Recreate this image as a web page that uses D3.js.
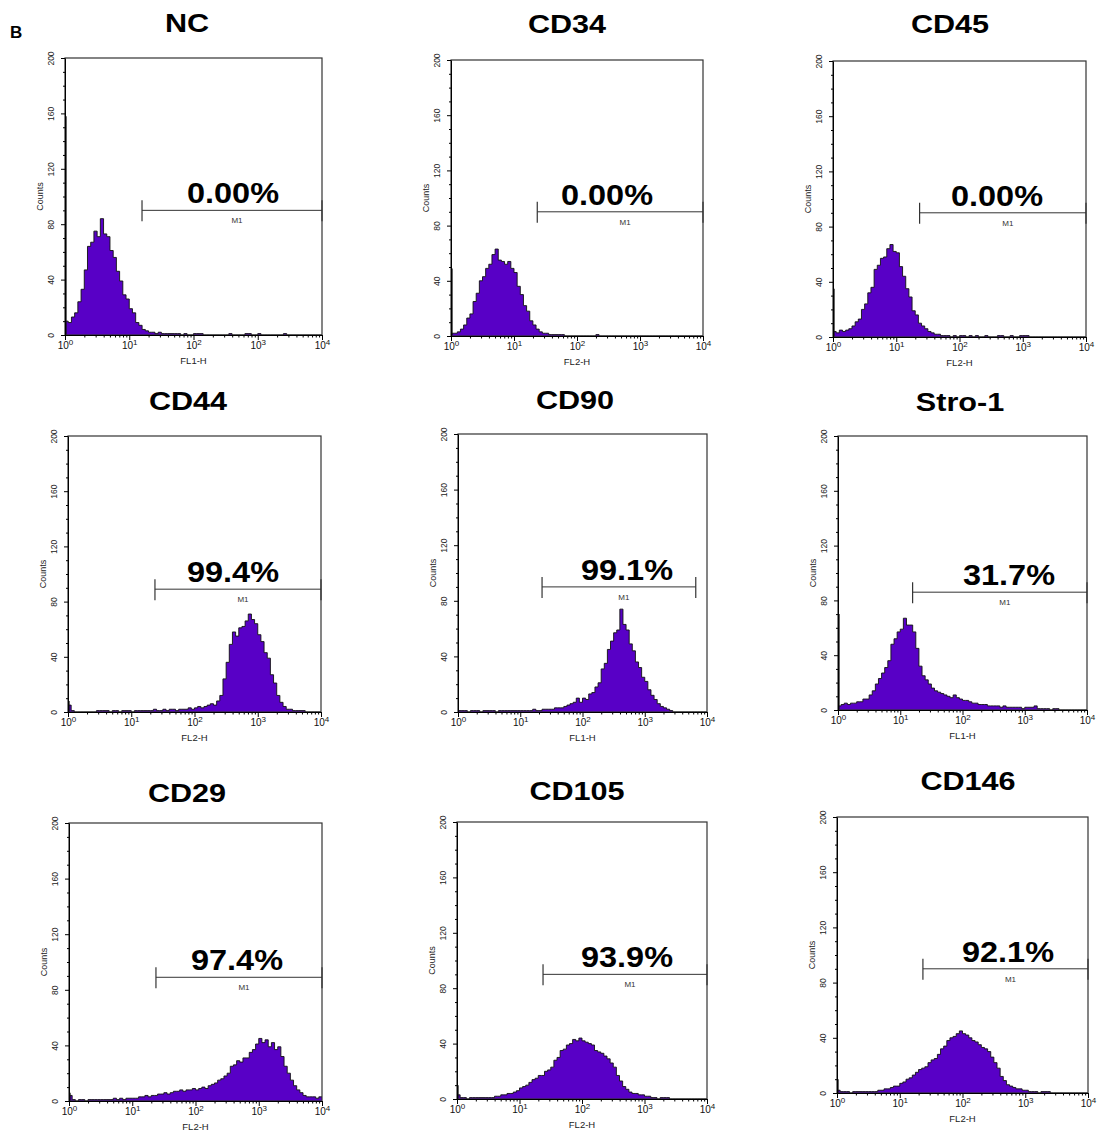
<!DOCTYPE html>
<html>
<head>
<meta charset="utf-8">
<script src="https://cdn.jsdelivr.net/npm/d3@7"></script>
<style>
  body { margin: 0; background: #fff; }
  svg { display: block; font-family: "Liberation Sans", Arial, sans-serif; }
</style>
</head>
<body>
<svg id="chart" width="1100" height="1134"></svg>
<script>
// Panel names, gated percentages and detector channel
const names = ["NC", "CD34", "CD45", "CD44", "CD90", "Stro-1", "CD29", "CD105", "CD146"];
const percents = ["0.00%", "0.00%", "0.00%", "99.4%", "99.1%", "31.7%", "97.4%", "93.9%", "92.1%"];
const channels = ["FL1-H", "FL2-H", "FL2-H", "FL2-H", "FL1-H", "FL1-H", "FL2-H", "FL2-H", "FL2-H"];

// Histogram counts, one bin per 0.05 decade from 10^0 to 10^4 (80 bins)
const binStep = 0.05;
const countsNC = [
  10, 9, 13, 16, 24, 33, 47, 64, 67, 75,
  71, 84, 73, 71, 61, 56, 46, 39, 29, 26,
  19, 16, 9, 7, 4, 3, 2, 2, 1, 2,
  1, 1, 1, 1, 1, 1, 0, 1, 0, 0,
  1, 1, 1, 0, 0, 0, 0, 0, 0, 0,
  0, 1, 0, 0, 0, 0, 1, 1, 0, 0,
  1, 0, 0, 0, 0, 0, 0, 0, 1, 0,
  0, 0, 0, 0, 0, 0, 0, 0, 0, 0];
const countsCD34 = [
  2, 2, 3, 5, 8, 13, 16, 25, 31, 40,
  43, 49, 52, 59, 63, 55, 54, 52, 54, 49,
  46, 36, 30, 22, 18, 11, 8, 5, 3, 2,
  2, 1, 1, 1, 1, 1, 0, 0, 0, 0,
  0, 0, 0, 0, 0, 0, 1, 0, 0, 0,
  0, 0, 0, 0, 0, 0, 0, 0, 0, 0,
  0, 0, 0, 0, 0, 0, 0, 0, 0, 0,
  0, 0, 0, 0, 0, 0, 0, 0, 0, 0];
const countsCD45 = [
  4, 3, 5, 4, 5, 6, 8, 11, 13, 20,
  24, 32, 36, 49, 52, 57, 58, 64, 67, 62,
  61, 51, 44, 35, 29, 19, 16, 10, 8, 6,
  4, 3, 2, 2, 1, 1, 1, 0, 1, 0,
  1, 1, 0, 1, 0, 1, 0, 0, 1, 0,
  0, 0, 1, 1, 0, 0, 1, 0, 0, 1,
  1, 1, 0, 0, 0, 0, 0, 0, 0, 0,
  0, 0, 0, 0, 0, 0, 0, 0, 0, 0];
const countsCD44 = [
  5, 1, 0, 0, 0, 0, 0, 0, 0, 1,
  1, 1, 1, 0, 1, 1, 0, 1, 1, 1,
  0, 1, 1, 1, 1, 1, 1, 2, 1, 1,
  2, 1, 2, 2, 1, 2, 2, 2, 3, 2,
  3, 4, 3, 4, 5, 6, 5, 8, 12, 24,
  36, 49, 58, 55, 61, 62, 66, 71, 67, 64,
  56, 51, 43, 39, 27, 21, 12, 7, 4, 2,
  2, 1, 1, 1, 1, 0, 0, 0, 0, 0];
const countsCD90 = [
  1, 1, 1, 0, 1, 1, 1, 0, 1, 1,
  1, 1, 0, 1, 1, 1, 1, 1, 1, 1,
  1, 1, 1, 1, 2, 1, 1, 2, 2, 2,
  2, 3, 3, 3, 4, 5, 6, 7, 10, 7,
  10, 9, 13, 14, 18, 21, 31, 35, 45, 51,
  57, 59, 74, 63, 59, 49, 44, 36, 32, 25,
  22, 16, 12, 9, 6, 4, 3, 2, 1, 0,
  0, 0, 0, 0, 0, 0, 0, 0, 0, 0];
const countsStro1 = [
  3, 4, 5, 4, 5, 5, 6, 6, 8, 8,
  11, 14, 19, 23, 27, 31, 36, 48, 52, 57,
  59, 67, 62, 62, 57, 45, 32, 25, 22, 19,
  16, 14, 13, 12, 11, 10, 9, 11, 9, 8,
  7, 7, 6, 5, 5, 4, 4, 4, 3, 3,
  3, 3, 2, 3, 2, 2, 2, 2, 2, 1,
  2, 2, 2, 3, 1, 1, 1, 1, 0, 1,
  1, 0, 0, 0, 0, 0, 0, 0, 0, 0];
const countsCD29 = [
  4, 1, 0, 1, 1, 0, 1, 1, 1, 1,
  1, 1, 1, 1, 2, 1, 2, 1, 2, 2,
  2, 2, 3, 3, 4, 3, 4, 4, 5, 5,
  6, 5, 6, 7, 7, 8, 7, 8, 8, 9,
  8, 9, 10, 9, 11, 12, 13, 15, 16, 18,
  20, 25, 26, 29, 28, 31, 31, 35, 37, 41,
  45, 42, 44, 39, 42, 37, 39, 32, 25, 20,
  15, 11, 8, 6, 4, 3, 3, 3, 2, 3];
const countsCD105 = [
  3, 1, 1, 0, 1, 1, 1, 1, 1, 1,
  1, 1, 2, 2, 3, 3, 4, 4, 5, 6,
  8, 9, 10, 12, 14, 15, 17, 17, 20, 21,
  23, 28, 30, 35, 36, 39, 40, 43, 42, 44,
  42, 41, 40, 39, 35, 34, 33, 31, 29, 26,
  23, 17, 13, 9, 7, 5, 4, 4, 3, 3,
  2, 2, 1, 1, 0, 1, 1, 1, 0, 0,
  0, 0, 0, 0, 0, 0, 0, 0, 0, 0];
const countsCD146 = [
  2, 1, 1, 1, 0, 1, 1, 1, 1, 1,
  1, 1, 1, 2, 2, 3, 3, 4, 5, 5,
  7, 8, 10, 11, 13, 15, 17, 18, 19, 22,
  24, 25, 28, 32, 34, 38, 40, 41, 43, 45,
  43, 42, 40, 38, 37, 35, 33, 32, 30, 26,
  22, 18, 12, 9, 6, 5, 4, 3, 3, 2,
  2, 1, 1, 1, 0, 1, 1, 1, 0, 0,
  0, 0, 0, 0, 0, 0, 0, 0, 0, 0];
const histograms = [countsNC, countsCD34, countsCD45, countsCD44, countsCD90,
                    countsStro1, countsCD29, countsCD105, countsCD146];

// Pile-up count in the very first channel
const edgeSpikes = [158, 49, 35, 8, 0, 70, 6, 10, 10];

// M1 marker gate: low / high fluorescence and height in counts
const markerLo = [15.8, 23.4, 23.4, 23.7, 22.4, 15.8, 23.7, 23.8, 23.4];
const markerHi = [10000, 10000, 10000, 10000, 6600, 10000, 10000, 10000, 10000];
const markerY = [90, 90, 90, 89, 90, 86, 89, 90, 90];

const yTicks = [0, 40, 80, 120, 160, 200];
const xTicks = [1, 10, 100, 1000, 10000];
const xExponents = ["0", "1", "2", "3", "4"];

// Panel boxes (px): plot rectangle, title anchor, percent label centre
const layout = [
  { l: 65,  r: 322,  t: 58,  b: 335,  tx: 187, ty: 32,  px: 233 },
  { l: 451, r: 703,  t: 60,  b: 336,  tx: 567, ty: 33,  px: 607 },
  { l: 833, r: 1086, t: 61,  b: 337,  tx: 950, ty: 33,  px: 997 },
  { l: 68,  r: 321,  t: 436, b: 712,  tx: 188, ty: 410, px: 233 },
  { l: 458, r: 707,  t: 434, b: 712,  tx: 575, ty: 409, px: 627 },
  { l: 838, r: 1087, t: 436, b: 710,  tx: 960, ty: 411, px: 1009 },
  { l: 69,  r: 322,  t: 823, b: 1101, tx: 187, ty: 802, px: 237 },
  { l: 457, r: 707,  t: 822, b: 1099, tx: 577, ty: 800, px: 627 },
  { l: 837, r: 1088, t: 817, b: 1093, tx: 968, ty: 790, px: 1008 }
];

const fillColor = "#5800c6";
const svg = d3.select("#chart");

svg.append("text")
    .attr("x", 10)
    .attr("y", 38)
    .style("font-size", "17px")
    .style("font-weight", "bold")
    .text("B");

const minorX = [];
[1, 10, 100, 1000].forEach(dec => [2, 3, 4, 5, 6, 7, 8, 9].forEach(m => minorX.push(dec * m)));
const minorY = d3.range(10, 200, 10).filter(v => v % 40 !== 0);

names.forEach((name, i) => {
    const L = layout[i];
    const x = d3.scaleLog().domain([1, 10000]).range([L.l, L.r]);
    const y = d3.scaleLinear().domain([0, 200]).range([L.b, L.t]);
    const g = svg.append("g");

    // Histogram as step area
    const counts = histograms[i];
    const pts = counts.map((c, k) => ({ v: Math.pow(10, k * binStep), c }));
    pts.push({ v: 10000, c: counts[counts.length - 1] });

    const area = d3.area()
        .curve(d3.curveStepAfter)
        .x(d => x(d.v))
        .y0(y(0))
        .y1(d => y(d.c));
    const outline = d3.line()
        .curve(d3.curveStepAfter)
        .x(d => x(d.v))
        .y(d => y(d.c));

    g.append("path")
        .datum(pts)
        .attr("d", area)
        .attr("fill", fillColor);
    g.append("path")
        .datum(pts)
        .attr("d", outline)
        .attr("fill", "none")
        .attr("stroke", "#111")
        .attr("stroke-width", 0.9);

    if (edgeSpikes[i] > 0) {
        g.append("line")
            .attr("x1", L.l + 1).attr("x2", L.l + 1)
            .attr("y1", y(0)).attr("y2", y(edgeSpikes[i]))
            .attr("stroke", "#111")
            .attr("stroke-width", 1.3);
    }

    // Frame
    g.append("rect")
        .attr("x", L.l).attr("y", L.t)
        .attr("width", L.r - L.l).attr("height", L.b - L.t)
        .attr("fill", "none")
        .attr("stroke", "#333")
        .attr("stroke-width", 1.2);

    // X axis, decades with superscript exponents
    const xAxis = g.append("g")
        .attr("transform", `translate(0,${L.b})`)
        .call(d3.axisBottom(x).tickValues(xTicks).tickSize(5).tickSizeOuter(0).tickFormat(() => ""));
    xAxis.selectAll(".tick text").each(function (d, k) {
        const t = d3.select(this)
            .attr("y", 14)
            .attr("dy", null)
            .attr("fill", "#111")
            .style("font-size", "10px")
            .style("font-family", "'Liberation Sans', Arial, sans-serif");
        t.append("tspan").text("10");
        t.append("tspan")
            .attr("dy", -4)
            .style("font-size", "8px")
            .text(xExponents[k]);
    });
    g.append("g")
        .attr("transform", `translate(0,${L.b})`)
        .call(d3.axisBottom(x).tickValues(minorX).tickSize(2.5).tickSizeOuter(0).tickFormat(() => ""))
        .call(a => a.select(".domain").remove());

    // Y axis, rotated labels
    const yAxis = g.append("g")
        .attr("transform", `translate(${L.l},0)`)
        .call(d3.axisLeft(y).tickValues(yTicks).tickSize(4).tickSizeOuter(0));
    yAxis.selectAll(".tick text")
        .attr("x", null)
        .attr("dy", null)
        .attr("transform", "translate(-11,0) rotate(-90)")
        .attr("text-anchor", "middle")
        .attr("fill", "#222")
        .style("font-size", "8.5px")
        .style("font-family", "'Liberation Sans', Arial, sans-serif");
    g.append("g")
        .attr("transform", `translate(${L.l},0)`)
        .call(d3.axisLeft(y).tickValues(minorY).tickSize(2).tickSizeOuter(0).tickFormat(() => ""))
        .call(a => a.select(".domain").remove());

    g.append("text")
        .attr("transform", `translate(${L.l - 22},${(L.t + L.b) / 2}) rotate(-90)`)
        .attr("text-anchor", "middle")
        .attr("fill", "#222")
        .style("font-size", "9px")
        .text("Counts");

    g.append("text")
        .attr("x", (L.l + L.r) / 2)
        .attr("y", L.b + 29)
        .attr("text-anchor", "middle")
        .attr("fill", "#222")
        .style("font-size", "9.5px")
        .text(channels[i]);

    // M1 marker
    const mx1 = x(markerLo[i]), mx2 = x(markerHi[i]), my = y(markerY[i]);
    g.append("line")
        .attr("x1", mx1).attr("x2", mx2)
        .attr("y1", my).attr("y2", my)
        .attr("stroke", "#333").attr("stroke-width", 1);
    [mx1, mx2].forEach(px => {
        g.append("line")
            .attr("x1", px).attr("x2", px)
            .attr("y1", my - 10).attr("y2", my + 11)
            .attr("stroke", "#333").attr("stroke-width", 1.2);
    });
    g.append("text")
        .attr("x", (mx1 + mx2) / 2 + 5)
        .attr("y", my + 13)
        .attr("text-anchor", "middle")
        .attr("fill", "#333")
        .style("font-size", "8px")
        .text("M1");

    // Percent label, slightly wide bold face as in the source figure
    g.append("text")
        .attr("transform", `translate(${L.px},${my - 7}) scale(1.12,1)`)
        .attr("text-anchor", "middle")
        .style("font-size", "29px")
        .style("font-weight", "bold")
        .text(percents[i]);

    svg.append("text")
        .attr("transform", `translate(${L.tx},${L.ty}) scale(1.2,1)`)
        .attr("text-anchor", "middle")
        .style("font-size", "25.5px")
        .style("font-weight", "bold")
        .text(name);
});
</script>
</body>
</html>
